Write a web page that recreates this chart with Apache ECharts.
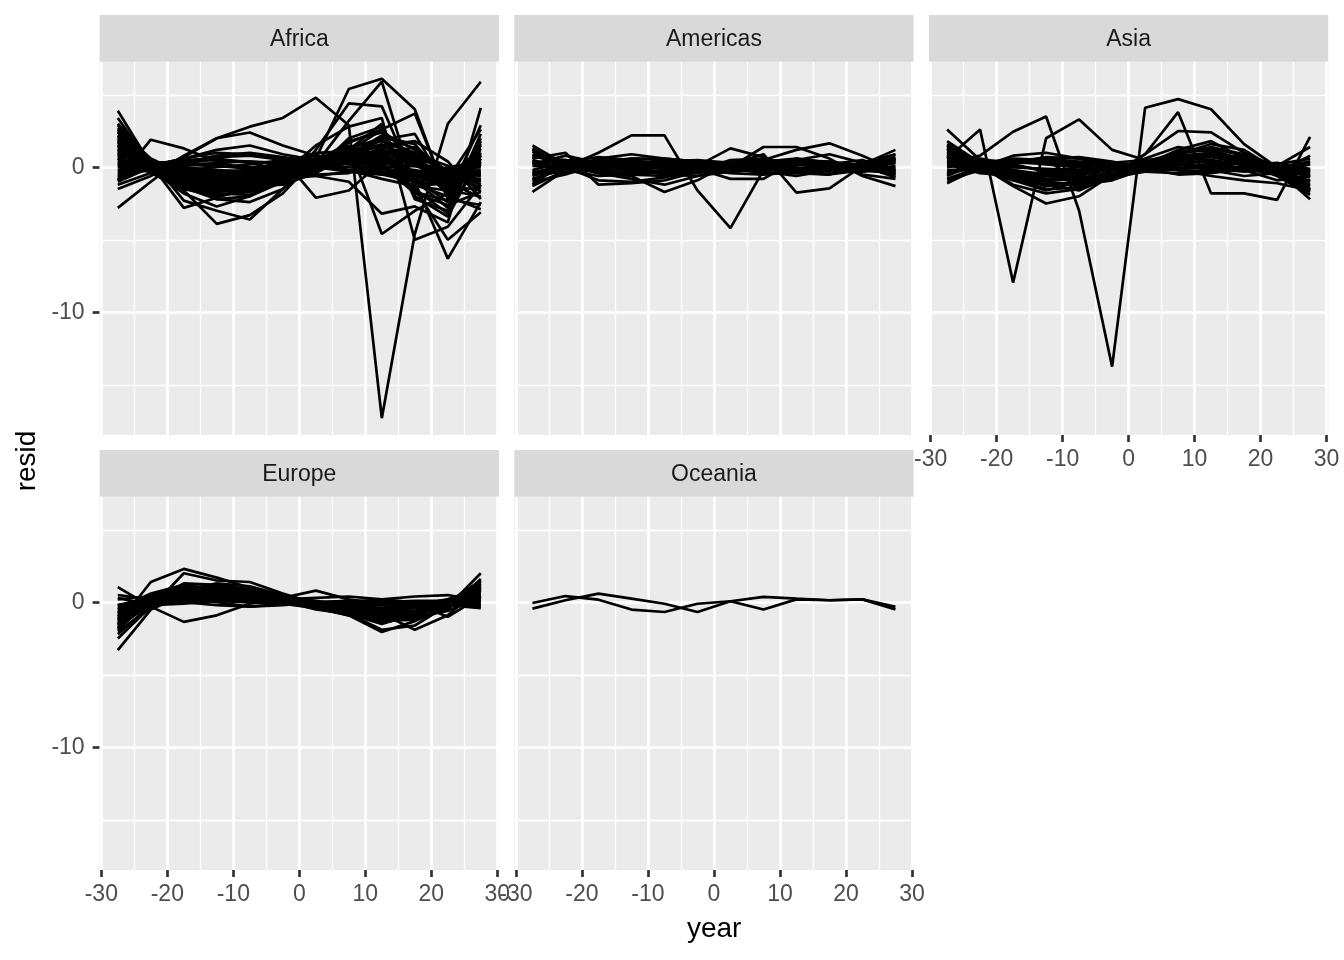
<!DOCTYPE html>
<html>
<head>
<meta charset="utf-8">
<script src="https://cdn.jsdelivr.net/npm/echarts@6.0.0/dist/echarts.min.js"></script>
<style>
  html, body { margin: 0; padding: 0; background: #ffffff; }
  #main { width: 1344px; height: 960px; }
</style>
</head>
<body>
<div id="main"></div>
<script>
// centred year (year - 1979.5)
const years = [-27.5, -22.5, -17.5, -12.5, -7.5, -2.5, 2.5, 7.5, 12.5, 17.5, 22.5, 27.5];
const continents = ['Africa', 'Americas', 'Asia', 'Europe', 'Oceania'];
const xTicks = [-30, -20, -10, 0, 10, 20, 30];
const xMinor = [-25, -15, -5, 5, 15, 25];
const yTicks = [-10, 0];
const yMinor = [-15, -5, 5];

// residuals per country
const africa = [
    [-2.8, -1.0, 0.7, 2.0, 2.8, 3.4, 4.8, 2.9, -17.3, -4.6, 3.0, 5.9],
    [1.8, 0.0, -1.6, -3.9, -3.3, -1.8, 0.6, 5.4, 6.1, 4.0, -2.2, -2.6],
    [2.2, 0.3, -1.0, -2.2, -2.4, -1.5, 0.2, 3.2, 5.9, -1.5, -5.0, -3.1],
    [3.0, 0.5, -2.3, -3.0, -3.6, -1.5, 1.2, 4.4, 4.2, -1.0, -6.3, -2.4],
    [1.2, -0.2, -1.8, -2.7, -2.0, -0.5, 1.5, 2.8, 3.4, -5.0, -4.1, -1.2],
    [0.8, -0.4, -1.5, -2.0, -1.5, -0.8, -0.2, 2.0, 2.8, -2.0, -3.4, 0.8],
    [-1.0, 0.0, -0.5, -1.1, -1.4, -0.9, 0.3, 1.5, -4.6, -3.0, -1.8, 1.5],
    [0.5, 0.2, 0.3, 0.2, 0.0, -0.3, -0.6, -1.0, -3.2, -2.7, -3.8, 4.1],
    [1.5, 0.3, -0.6, -1.3, -1.2, -0.8, 0.2, 1.1, 2.6, 3.7, -2.0, -2.9],
    [0.3, 0.1, 0.6, 1.0, 0.9, 0.6, -2.1, -1.6, 0.4, 0.8, -0.3, -1.0],
    [-0.9, 1.9, 1.3, 0.4, -0.2, -0.8, -0.6, -0.3, 0.0, 0.1, -0.5, 0.1],
    [-1.5, -0.6, 0.8, 2.0, 2.4, 1.5, 0.8, 0.2, -0.5, -1.0, -1.2, -0.8],
    [3.9, 0.2, -2.8, -2.1, -1.4, -0.6, 0.0, 0.7, 1.9, 1.0, -1.4, -1.5],
    [2.9, 0.5, -0.6, -1.3, -1.5, -0.8, 0.2, 1.2, 1.5, 0.6, -0.9, 0.3],
    [2.2, 0.2, -0.9, -1.8, -1.9, -1.0, 0.4, 1.4, 1.8, 0.9, -1.5, 0.9],
    [1.6, 0.1, -0.5, -0.9, -0.9, -0.4, 0.1, 0.6, 1.0, 0.4, -0.8, -0.3],
    [1.0, -0.1, -0.3, -0.6, -0.7, -0.3, 0.2, 0.5, 0.6, 0.3, -0.4, -0.2],
    [0.4, 0.0, -0.2, -0.3, -0.2, 0.0, 0.2, 0.3, 0.1, -0.2, -0.6, 0.5],
    [-0.5, -0.2, 0.1, 0.3, 0.4, 0.3, 0.2, 0.0, -0.1, -0.4, -0.3, 0.2],
    [-1.2, -0.4, 0.3, 0.8, 1.0, 0.7, 0.4, 0.2, -0.3, -0.8, -0.6, 1.2],
    [0.2, 0.0, -0.4, -0.8, -0.5, 0.2, 0.6, 0.9, 0.5, -0.6, -1.4, 0.4],
    [1.3, 0.3, -0.2, -0.5, -0.2, 0.4, 0.8, 0.6, -0.3, -1.3, -1.1, -0.4],
    [3.4, 0.2, -1.4, -2.2, -2.0, -1.0, 0.0, 1.8, 2.4, 1.2, -0.6, -0.8],
    [-0.8, 0.1, 0.6, 1.2, 1.5, 0.9, 0.5, -0.2, -0.8, -1.3, -1.6, 0.6],
    [1.9, 0.4, -0.7, -1.2, -0.8, 0.3, 1.0, 1.1, 0.2, -1.8, -2.6, -1.7],
    [0.7, -0.3, -1.1, -1.6, -1.2, -0.2, 0.5, 0.7, 1.2, 0.8, -0.2, -0.6],
    [2.6, 0.6, -0.5, -1.0, -1.3, -1.2, -0.4, 0.8, 2.2, 1.3, -0.5, -1.4],
    [-0.3, 0.3, 0.4, 0.5, 0.4, 0.2, 0.0, -0.3, -0.5, -0.4, 0.0, 0.4],
    [1.4, -0.2, -1.3, -2.0, -1.6, -0.6, 0.3, 1.0, 0.7, -0.9, -2.8, 2.3],
    [0.9, 0.0, -0.6, -1.0, -0.6, 0.0, 0.5, 0.9, 0.4, -0.3, -0.9, -0.4],
    [2.0, 0.1, -1.0, -1.4, -1.3, -0.7, 0.1, 0.9, 1.6, 0.2, -1.2, 0.3],
    [1.1, 0.2, -0.3, -0.4, -0.4, -0.3, 0.0, 0.4, 0.5, 0.3, -0.2, -0.6],
    [0.1, 0.1, 0.0, -0.2, -0.3, -0.2, 0.1, 0.3, 0.3, 0.1, -0.1, 0.0],
    [0.6, -0.1, -0.2, 0.0, 0.2, 0.5, 0.6, 0.4, -0.1, -0.6, -0.9, -0.5],
    [-0.6, 0.2, 0.5, 0.6, 0.3, -0.2, -0.5, -0.4, 0.3, 0.6, -0.8, 2.6],
    [2.4, 0.4, -0.8, -1.6, -1.4, -0.6, 0.3, 1.3, 2.0, -0.8, -2.4, 1.0],
    [1.7, 0.1, -1.1, -1.7, -1.5, -0.7, 0.4, 1.7, 2.6, 0.5, -1.9, 1.6],
    [0.0, -0.3, -0.6, -0.9, -0.7, -0.2, 0.3, 0.8, 1.1, -1.2, -2.0, 2.9],
    [2.7, 0.3, -1.2, -1.9, -1.7, -0.9, 0.1, 1.2, 3.0, -2.2, -3.0, 0.6],
    [-0.4, 0.0, 0.2, 0.1, -0.1, -0.3, 0.0, 0.4, 0.9, 1.4, -0.3, -1.2],
    [1.0, 0.2, -0.4, -0.9, -1.1, -0.8, -0.2, 0.5, 1.3, -1.7, -2.3, 2.0],
    [0.6, -0.2, -0.8, -1.2, -0.9, -0.4, 0.2, 0.9, 1.9, 2.3, -1.6, -2.0],
    [-0.2, 0.1, 0.2, 0.1, 0.0, 0.1, 0.3, 0.3, -0.4, -1.0, -0.7, 1.0],
    [1.5, 0.0, -0.9, -1.4, -1.0, -0.3, 0.4, 1.3, 0.9, -0.5, -1.0, 0.2],
    [0.3, -0.1, -0.4, -0.6, -0.4, -0.1, 0.2, 0.6, 0.7, -0.4, -1.2, 1.3],
    [2.1, 0.5, -0.4, -0.9, -1.0, -0.7, -0.1, 0.6, 1.0, 0.5, -0.6, -1.0],
    [-0.7, -0.1, 0.4, 0.7, 0.8, 0.5, 0.1, -0.2, -0.3, -0.5, -0.9, 0.2],
    [1.2, 0.2, -0.5, -1.1, -1.3, -0.9, -0.1, 0.9, 2.1, 1.6, -1.0, -2.1],
    [0.9, 0.3, -0.2, -0.7, -0.9, -0.5, 0.2, 0.7, 0.3, -1.5, -3.2, 1.8],
    [1.8, 0.1, -0.7, -1.0, -0.9, -0.6, -0.2, 0.3, 1.4, 0.9, 0.1, -1.7],
    [0.1, 0.0, -0.1, -0.3, -0.5, -0.4, 0.0, 0.5, 0.8, 0.2, -0.5, 0.2],
    [2.5, 0.2, -1.0, -1.5, -1.6, -1.1, -0.2, 0.8, 1.5, 1.8, 0.4, -2.2]
];

const americas = [
    [0.3, 0.0, 1.0, 2.2, 2.2, -1.6, -4.2, -0.2, 0.6, 0.3, -0.5, -0.8],
    [1.5, 0.2, -0.4, -0.8, -1.2, -0.6, 0.0, 1.4, 1.4, 0.6, -0.6, -1.3],
    [-1.7, -0.2, 0.5, 0.4, 0.2, 0.1, 1.3, 0.7, -0.3, -0.5, 0.2, 1.2],
    [0.6, 1.0, -1.2, -1.1, -0.9, -0.3, 0.2, 0.9, -1.75, -1.45, 0.1, 0.6],
    [1.2, 0.1, -0.4, -0.6, -1.7, -0.9, 0.3, 0.5, 1.2, 1.65, 0.8, -0.2],
    [-1.2, 0.4, 0.3, 0.2, 0.1, -0.1, -0.8, -0.8, 0.5, 0.9, 0.3, 0.9],
    [0.9, 0.1, -0.3, -0.4, -0.3, -0.1, 0.1, 0.3, 0.3, 0.1, -0.2, -0.4],
    [-0.8, -0.1, 0.3, 0.4, 0.3, 0.2, 0.0, -0.2, -0.2, -0.1, 0.1, 0.3],
    [0.4, 0.3, 0.0, -0.3, -0.4, -0.2, 0.1, 0.2, 0.2, 0.1, -0.1, -0.2],
    [-0.4, 0.2, 0.5, 0.3, 0.0, -0.2, -0.3, -0.1, 0.2, 0.4, 0.1, -0.7],
    [1.1, -0.2, -0.6, -0.5, -0.3, 0.0, 0.3, 0.4, 0.3, 0.0, -0.3, -0.1],
    [-1.0, -0.5, 0.2, 0.6, 0.6, 0.4, 0.1, -0.1, -0.2, -0.1, 0.2, 0.5],
    [0.1, 0.0, 0.1, 0.0, -0.1, 0.0, 0.1, 0.0, -0.1, 0.0, 0.1, 0.0],
    [0.7, 0.5, 0.1, -0.2, -0.5, -0.6, -0.3, 0.2, 0.5, 0.4, 0.0, -0.6],
    [-0.5, -0.3, -0.1, 0.2, 0.4, 0.5, 0.3, 0.0, -0.4, -0.5, -0.2, 0.6],
    [1.3, 0.0, -0.9, -1.0, -0.7, -0.2, 0.5, 0.6, 0.2, -0.1, -0.3, 0.5],
    [-1.3, -0.2, 0.6, 0.9, 0.6, 0.4, 0.2, -0.3, -0.6, -0.2, 0.1, 0.9],
    [0.2, 0.8, 0.3, -0.1, -0.3, -0.2, -0.1, 0.1, 0.0, -0.2, -0.3, 0.1],
    [-0.2, 0.4, 0.7, 0.5, 0.2, -0.1, -0.4, -0.5, -0.3, 0.2, 0.5, -0.3],
    [0.5, -0.1, -0.2, -0.1, 0.0, 0.1, 0.2, 0.1, -0.1, -0.2, -0.1, 0.3],
    [-0.6, 0.1, 0.3, 0.1, -0.1, -0.2, 0.0, 0.3, 0.4, 0.1, -0.2, -0.4],
    [0.8, 0.2, -0.2, -0.5, -0.6, -0.4, 0.0, 0.4, 0.6, 0.3, -0.1, -0.5],
    [-0.9, 0.0, 0.4, 0.6, 0.5, 0.3, -0.1, -0.4, -0.4, -0.1, 0.3, 0.4],
    [0.3, 0.5, 0.2, -0.2, -0.4, -0.3, -0.1, 0.2, 0.3, 0.2, -0.1, -0.4],
    [-0.3, -0.4, 0.0, 0.3, 0.2, 0.1, 0.2, 0.0, -0.2, -0.3, 0.0, 0.7]
];

const asia = [
    [0.3, 0.8, 2.45, 3.5, -3.0, -13.75, 4.1, 4.7, 4.0, 1.6, 0.0, -1.5],
    [0.6, 2.6, -7.95, 2.0, 3.3, 1.2, 0.5, -0.2, -0.6, -0.9, -1.1, -1.6],
    [2.6, 0.5, -0.6, -1.2, -1.6, -0.6, 0.9, 3.8, -1.8, -1.8, -2.25, 2.1],
    [1.6, 0.2, -1.2, -1.8, -1.5, -0.6, 0.9, 2.5, 2.4, 1.0, -0.3, -1.0],
    [-1.1, 0.0, 0.8, 1.0, 0.6, 0.2, 0.1, 0.4, 0.3, -0.2, -0.4, -0.5],
    [1.2, 0.1, -1.3, -2.5, -2.0, -0.5, 0.6, 1.4, 1.1, 0.2, -0.6, -1.9],
    [0.9, -0.2, -0.9, -1.6, -1.0, 0.1, 0.3, 0.9, 1.6, 1.2, -0.2, -2.2],
    [-0.6, 0.4, 0.5, 0.6, 0.4, 0.2, 0.0, -0.2, -0.3, -0.2, 0.0, 0.3],
    [0.4, -0.3, -0.7, -0.8, -0.6, -0.1, 0.3, 0.6, 0.7, 0.3, -0.1, -0.6],
    [-0.8, 0.0, 0.3, 0.3, 0.2, 0.1, 0.1, 0.0, -0.1, 0.0, 0.2, -0.1],
    [1.8, 0.3, -0.6, -1.0, -1.2, -0.9, -0.1, 0.6, 0.9, 0.7, 0.1, -1.3],
    [0.2, 0.1, 0.0, -0.1, -0.2, -0.1, 0.1, 0.2, 0.1, 0.0, -0.1, -0.2],
    [-0.4, 0.3, 0.4, 0.2, 0.0, -0.1, -0.2, -0.1, 0.1, 0.3, 0.2, -0.3],
    [1.0, 0.0, -0.4, -0.9, -0.8, -0.4, 0.1, 0.8, 1.0, 0.5, -0.4, -0.9],
    [0.6, 0.2, 0.6, 0.5, -0.9, -0.4, -0.1, 0.2, 0.5, 0.2, -0.2, -0.5],
    [-0.2, -0.1, -0.4, -1.0, -1.3, -0.5, 0.5, 0.7, 0.8, 0.3, 0.1, 1.4],
    [1.4, 0.4, -0.2, -0.5, -0.8, -0.7, -0.3, 0.2, 0.9, 0.4, 0.0, -0.7],
    [0.0, 0.6, 0.2, -0.3, -0.5, 0.0, 0.3, 0.2, -0.2, -0.6, -0.4, 0.8],
    [0.8, -0.1, -0.5, -0.6, -0.4, 0.0, 0.4, 0.7, 0.5, -0.2, -0.9, -0.6],
    [-0.3, 0.0, 0.3, 0.6, 0.7, 0.4, -0.1, -0.5, -0.4, -0.1, 0.2, 0.6],
    [1.3, 0.2, -0.7, -1.2, -1.1, -0.6, 0.2, 1.1, 1.3, 0.8, -0.3, -1.6],
    [0.5, 0.0, -0.3, -0.5, -0.4, -0.1, 0.2, 0.4, 0.4, 0.2, -0.2, -0.4],
    [-0.5, 0.2, 0.5, 0.4, 0.1, -0.2, -0.3, -0.1, 0.2, 0.3, 0.1, -0.3],
    [1.1, 0.3, -0.3, -0.8, -0.9, -0.5, 0.0, 0.5, 0.8, 0.6, -0.1, -1.0],
    [0.3, -0.2, -0.5, -0.4, -0.2, 0.1, 0.3, 0.3, 0.0, -0.1, 0.0, 0.4],
    [-0.9, -0.2, 0.3, 0.7, 0.6, 0.3, 0.0, -0.1, 0.0, -0.1, -0.2, -0.3],
    [0.7, 0.1, -0.6, -1.3, -1.0, -0.2, 0.4, 1.0, 1.2, 0.5, -0.1, -0.6],
    [1.5, 0.2, -0.8, -1.5, -1.4, -0.8, 0.0, 0.9, 1.4, 0.9, 0.1, -1.5],
    [0.0, 0.3, 0.1, -0.2, -0.3, -0.1, 0.2, 0.3, 0.0, -0.2, -0.3, 0.2],
    [-0.4, 0.0, 0.4, 0.5, 0.3, 0.0, -0.3, -0.4, -0.2, 0.1, 0.3, -0.2],
    [0.9, 0.2, -0.2, -0.6, -0.7, -0.5, 0.0, 0.5, 0.9, 0.4, -0.4, -1.2],
    [0.2, -0.4, -0.6, -0.3, 0.0, 0.3, 0.5, 0.3, -0.1, -0.3, -0.1, 0.4],
    [1.3, 0.0, -0.9, -1.2, -1.0, -0.6, 0.2, 1.2, 1.8, 0.6, -0.5, -1.7]
];

const europe = [
    [-3.3, -0.5, 0.5, 0.8, 0.6, 0.3, 0.0, -0.4, -0.6, -0.4, 0.1, 0.8],
    [1.05, -0.3, -1.35, -0.9, -0.1, 0.2, 0.3, 0.4, 0.2, 0.0, -0.2, -0.1],
    [-1.5, 1.4, 2.3, 1.7, 1.0, 0.4, 0.0, -0.4, -1.2, -1.1, -0.4, 0.9],
    [-2.0, -0.4, 2.0, 1.5, 1.4, 0.6, -0.1, -0.8, -1.9, -1.6, -0.2, 1.2],
    [-1.7, 0.1, 0.8, 0.7, 0.5, 0.2, -0.3, -0.9, -2.05, -1.3, -0.3, 2.0],
    [-1.0, 0.2, 0.5, 0.3, 0.2, 0.1, 0.0, -0.3, -0.8, -1.9, -0.9, 1.0],
    [-0.3, 0.1, 0.3, 0.2, 0.0, -0.1, -0.2, 0.0, 0.2, 0.4, 0.5, 0.1],
    [-0.8, 0.3, 0.6, 0.4, 0.3, 0.1, -0.2, -0.5, -0.4, -0.1, -1.0, 0.4],
    [0.3, -0.2, -0.1, 0.1, 0.2, 0.3, 0.8, 0.2, -0.1, -0.3, -0.2, -0.4],
    [-1.4, -0.1, 0.6, 0.7, 0.6, 0.3, -0.1, -0.4, -0.7, -0.6, -0.1, 0.8],
    [-0.6, 0.2, 0.4, 0.3, 0.2, 0.0, -0.2, -0.3, -0.4, -0.2, 0.2, 0.5],
    [-2.2, -0.2, 1.0, 1.1, 0.8, 0.3, -0.3, -0.6, -1.1, -0.9, -0.2, 1.4],
    [-0.2, 0.0, 0.1, 0.1, 0.0, 0.0, -0.1, -0.1, 0.0, 0.1, 0.1, 0.0],
    [-1.0, 0.3, 0.9, 0.5, 0.1, -0.1, -0.4, -0.6, -0.9, -0.7, 0.0, 1.1],
    [-0.9, -0.3, 0.2, 0.5, 0.5, 0.4, 0.1, -0.2, -0.4, -0.3, 0.0, 0.5],
    [-1.8, 0.0, 0.7, 0.9, 0.8, 0.4, -0.2, -0.5, -1.3, -1.2, -0.5, 1.6],
    [0.2, 0.4, 0.3, 0.0, -0.3, -0.1, 0.0, 0.1, 0.0, 0.0, 0.1, -0.2],
    [-0.5, 0.6, 1.2, 0.9, 0.3, 0.1, -0.5, -0.8, -1.5, -0.8, 0.2, 0.9],
    [-1.2, 0.5, 1.0, 0.6, 0.4, 0.2, -0.1, -0.3, -0.6, -1.0, -0.6, 0.4],
    [-1.1, 0.0, 0.5, 0.6, 0.4, 0.2, -0.1, -0.3, -0.5, -0.4, 0.1, 0.6],
    [-0.4, 0.1, 0.3, 0.2, 0.1, 0.0, -0.1, -0.2, -0.2, 0.0, 0.1, 0.2],
    [-1.6, -0.2, 0.9, 1.0, 0.7, 0.3, -0.2, -0.6, -1.0, -0.8, -0.1, 1.2],
    [-0.7, 0.4, 0.7, 0.4, 0.1, -0.1, -0.3, -0.3, -0.4, -0.3, 0.1, 0.4],
    [-1.3, 0.1, 1.3, 1.2, 0.9, 0.4, -0.4, -0.9, -1.2, -0.7, 0.2, 0.7],
    [-0.2, 0.3, 0.5, 0.4, 0.3, 0.1, -0.3, -0.5, -0.5, -0.2, 0.0, 0.3],
    [-2.5, -0.3, 0.8, 1.3, 1.1, 0.5, -0.2, -0.7, -1.4, -1.0, 0.0, 1.5],
    [-0.8, -0.1, 0.4, 0.6, 0.5, 0.3, 0.0, -0.3, -0.7, -0.6, 0.1, 0.9],
    [0.5, 0.2, 0.0, -0.2, -0.3, -0.2, 0.0, 0.1, 0.1, 0.0, 0.0, -0.3],
    [-1.9, 0.2, 1.1, 1.0, 0.7, 0.3, -0.4, -0.8, -1.1, -0.9, -0.2, 1.3],
    [-1.2, -0.1, 0.6, 0.8, 0.8, 0.5, 0.0, -0.4, -0.8, -0.7, 0.0, 1.0]
];

const oceania = [
    [-0.05, 0.43, 0.18, -0.5, -0.67, -0.1, 0.07, -0.5, 0.2, 0.14, 0.2, -0.5],
    [-0.44, 0.14, 0.6, 0.25, -0.1, -0.67, 0.07, 0.37, 0.25, 0.14, 0.2, -0.32]
];

const panelData = [africa, americas, asia, europe, oceania];

// facet layout (pixels)
const colLeft = [99.65, 514.3, 928.95];
const rowTop = [61.7, 496.7];
const panelW = 399.3;
const panelH = 373.3;
const stripH = 46.7;
const font = '"Liberation Sans", Arial, Helvetica, sans-serif';

const chart = echarts.init(document.getElementById('main'), null, { renderer: 'canvas' });

const grids = [], xAxes = [], yAxes = [], series = [], graphics = [];

continents.forEach((name, p) => {
    const col = p % 3, row = Math.floor(p / 3);
    const left = colLeft[col], top = rowTop[row];
    grids.push({
        left: left, top: top, width: panelW, height: panelH,
        show: true, backgroundColor: '#EBEBEB', borderWidth: 0,
        containLabel: false, outerBoundsMode: 'none'
    });

    // x labels only where no panel sits below
    const showX = (row === 1) || (col === 2);
    xAxes.push({
        type: 'value', gridIndex: p, min: -30.25, max: 30.25, position: 'bottom',
        axisLine: { show: false, onZero: false },
        axisTick: { show: showX, customValues: xTicks, length: 7, lineStyle: { color: '#333333', width: 2.7 } },
        axisLabel: { show: showX, customValues: xTicks, color: '#4D4D4D', fontSize: 23, fontFamily: font, margin: 13 },
        splitLine: { show: false }
    });
    const showY = col === 0;
    yAxes.push({
        type: 'value', gridIndex: p, min: -18.46, max: 7.28, position: 'left',
        axisLine: { show: false, onZero: false },
        axisTick: { show: showY, customValues: yTicks, length: 7, lineStyle: { color: '#333333', width: 2.7 } },
        axisLabel: { show: showY, customValues: yTicks, color: '#4D4D4D', fontSize: 23, fontFamily: font, margin: 15 },
        splitLine: { show: false }
    });

    // panel grid lines as white mark lines
    const major = { color: '#FFFFFF', width: 2.7, type: 'solid' };
    const minor = { color: '#FFFFFF', width: 1.35, type: 'solid' };
    const ml = [];
    yMinor.forEach(v => ml.push({ yAxis: v, lineStyle: minor }));
    xMinor.forEach(v => ml.push({ xAxis: v, lineStyle: minor }));
    yTicks.forEach(v => ml.push({ yAxis: v, lineStyle: major }));
    xTicks.forEach(v => ml.push({ xAxis: v, lineStyle: major }));
    series.push({
        type: 'line', xAxisIndex: p, yAxisIndex: p, data: [], silent: true,
        markLine: {
            silent: true, z: 1, symbol: ['none', 'none'], label: { show: false },
            emphasis: { disabled: true }, data: ml
        }
    });

    panelData[p].forEach((vals, k) => {
        series.push({
            name: name + ' ' + (k + 1),
            type: 'line', xAxisIndex: p, yAxisIndex: p, z: 3,
            showSymbol: false, symbol: 'none', silent: true,
            lineStyle: { color: '#000000', width: 2.7 },
            emphasis: { disabled: true },
            data: years.map((x, i) => [x, vals[i]])
        });
    });

    // facet strip
    graphics.push({
        type: 'rect', silent: true,
        shape: { x: left, y: top - stripH, width: panelW, height: stripH },
        style: { fill: '#D9D9D9' }
    });
    graphics.push({
        type: 'text', silent: true,
        x: left + panelW / 2, y: top - stripH / 2 + 1.5,
        style: { text: name, fill: '#1A1A1A', font: '23px ' + font, align: 'center', verticalAlign: 'middle' }
    });
});

// axis titles
graphics.push({
    type: 'text', silent: true, x: 714.15, y: 929,
    style: { text: 'year', fill: '#000000', font: '28px ' + font, align: 'center', verticalAlign: 'middle' }
});
graphics.push({
    type: 'text', silent: true, x: 27, y: 461, rotation: Math.PI / 2,
    style: { text: 'resid', fill: '#000000', font: '28px ' + font, align: 'center', verticalAlign: 'middle' }
});

chart.setOption({
    animation: false,
    backgroundColor: '#FFFFFF',
    grid: grids,
    xAxis: xAxes,
    yAxis: yAxes,
    series: series,
    graphic: graphics
});
</script>
</body>
</html>
